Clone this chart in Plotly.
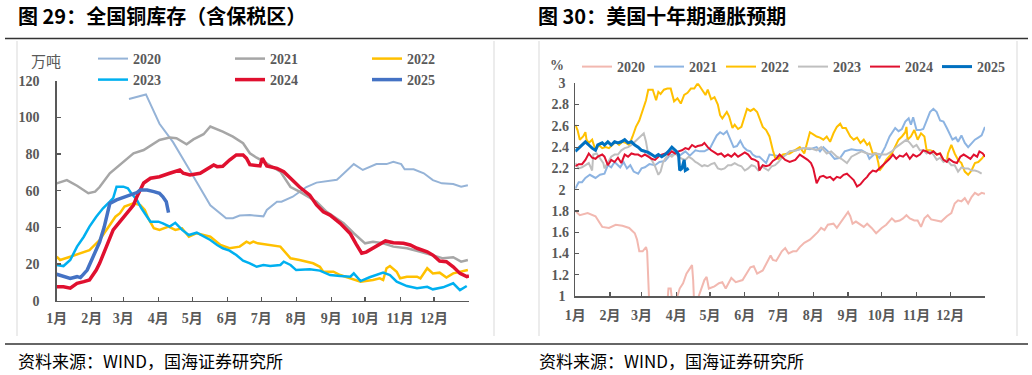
import plotly.graph_objects as go

# ---------------- data: 全国铜库存（万吨），x = day of year ----------------
inv_d_2020 = [64,79,91,103,117,127,136,150,156,162,171,183,186,195,199,209,221,230,236,248,251,263,271,283,292,298,305,308,316,325,333,341,351,358,364]
inv_2020 = [110,112.5,96.5,86.5,72,61.5,52,45,45,46.5,46.7,46,49.5,54,54,56.7,62,64.4,65,66,67.6,74.5,71.3,74.5,74.5,75.8,74.5,71.7,71.7,69.5,65.8,64,63.6,62.2,63]

inv_d_2021 = [0,9,18,28,34,38,47,56,68,77,91,100,106,115,121,130,136,147,156,165,171,177,183,198,207,215,230,239,245,254,263,273,280,289,298,310,322,333,342,351,358,364]
inv_2021 = [64,65.8,62.7,58.6,59.5,62,69.5,74,80.4,82.2,87.7,89,88.6,85.3,88,90.8,95,92.2,89.5,85.9,80.4,78,76,70.4,62,59.5,54,48.5,45.8,42.2,36.8,31.3,32.2,31.3,29.5,28.6,26.7,24.9,23.1,23.7,21.3,22.2]

inv_d_2022 = [0,3,12,24,29,38,46,52,56,60,68,74,78,81,86,91,99,105,111,117,124,130,136,145,153,162,168,171,174,178,189,198,207,215,227,233,236,245,251,260,269,280,286,289,292,295,301,304,310,319,322,328,333,339,345,351,357,364]
inv_2022 = [24,22.2,24,26.7,27.6,33.1,40.4,45.8,47.7,51.3,53.1,52.2,49.5,45,39.5,38.6,40.4,38.6,39.5,34.9,36.8,35.8,34.9,30.4,28.6,29.5,32.2,31.3,32.2,31.3,30.4,29.5,23.1,22.2,20.4,18.5,15.8,15.8,14,12.2,10.4,11.3,12.2,11.3,17.7,18.9,15.8,12.2,13.1,13.1,12.2,17.7,14.9,15.3,12.6,14.9,15.8,16.7]

inv_d_2023 = [0,6,12,18,24,29,35,41,47,50,53,59,63,66,71,75,80,83,90,94,100,105,111,117,124,130,136,142,147,153,159,165,171,177,183,189,198,201,207,212,224,233,242,251,260,263,269,277,289,295,301,310,319,328,333,342,351,357,363]
inv_2023 = [19.5,18.9,22.2,29.5,34.9,40.4,45.8,50.4,54,56,62.2,62.2,61.3,58.6,54.9,50.4,45.8,43.1,43.1,42.2,40.4,42.5,38.6,35.8,37.1,34.9,33.1,30.4,28.6,27.3,24.9,21.8,20.4,18.5,19.5,18.9,19.5,21.3,19.5,16.7,17.1,16.4,14,13.5,13.1,14.9,10.7,12.8,15.3,14,10.4,8.0,6.8,7.6,6.2,7.3,9.5,5.8,8.0]

inv_d_2024 = [0,6,12,18,24,29,35,38,44,50,56,62,65,68,71,74,77,83,91,100,109,112,118,127,136,139,142,147,153,159,165,168,171,177,180,182,186,195,201,207,215,224,230,236,242,251,260,265,270,274,280,286,291,298,307,313,319,328,333,339,345,351,357,363,365]
inv_2024 = [7.6,7.6,6.8,9.5,10.4,11.3,16.7,20.4,29.5,38.6,43.1,47.7,49.5,52.2,56.7,60.4,64.2,66.8,67.6,69.5,71.3,69.5,68.6,69.5,72.5,74,73.1,73.3,76.7,79.5,79.5,77.7,74.2,74,73.5,77.7,73.5,72.2,70.4,66.8,62,57.6,52.2,48.5,46.7,42.2,36.5,31,25.9,26.5,28.6,30.4,32.6,31.6,31.3,30.4,28.6,26.7,24.9,21.6,21.3,18.5,14.9,13.1,13.6]

inv_d_2025 = [0,6,12,18,21,27,32,38,42,47,53,59,65,71,74,80,86,91,94,97,99]
inv_2025 = [14.4,13.1,12.2,13.1,12.6,16.7,24,32,40,53,55,56.5,58,59,60.4,60.4,59.5,58.6,56.7,54,48]

# ---------------- data: 美国十年期通胀预期（%），x = day of year ----------------
bei_d_2020 = [0,4,11,18,24,30,36,42,48,53,55,57,60,63,64,65,66,70,76,81,82,83,85,86,88,90,91,93,96,99,101,104,105,106,108,110,112,115,117,119,124,128,131,134,139,143,149,152,156,159,162,167,171,174,176,179,184,187,190,194,197,200,204,209,212,216,219,222,225,230,233,237,240,243,245,247,250,253,257,260,264,268,273,277,282,285,289,292,295,298,302,305,308,311,314,317,322,326,331,335,338,341,344,347,350,353,356,359,362,365]
bei_2020 = [1.80,1.76,1.78,1.75,1.65,1.64,1.67,1.66,1.64,1.59,1.53,1.42,1.42,1.46,1.42,1.15,0.9,0.6,0.55,0.8,1.0,1.07,1.07,0.95,0.8,0.9,1.0,1.07,1.12,1.21,1.24,1.29,1.15,0.9,0.85,1.0,1.06,1.15,1.18,1.07,1.09,1.12,1.13,1.07,1.17,1.13,1.15,1.20,1.27,1.28,1.21,1.24,1.32,1.38,1.34,1.33,1.42,1.45,1.40,1.42,1.42,1.46,1.50,1.53,1.56,1.60,1.64,1.62,1.67,1.68,1.64,1.70,1.75,1.79,1.75,1.68,1.70,1.68,1.65,1.68,1.64,1.59,1.64,1.67,1.73,1.70,1.71,1.73,1.76,1.73,1.71,1.71,1.65,1.73,1.76,1.72,1.71,1.70,1.75,1.78,1.87,1.90,1.89,1.92,1.87,1.93,1.97,1.95,1.97,1.96]

bei_d_2021 = [0,3,6,9,13,18,22,26,29,32,35,40,43,46,49,52,56,59,62,66,71,75,80,84,89,93,98,102,107,111,115,120,123,126,129,132,135,138,141,144,147,150,153,156,158,161,164,167,170,173,179,185,191,197,203,209,215,218,221,227,231,236,240,246,251,255,260,262,267,271,276,280,285,288,291,294,297,299,301,304,307,310,313,316,319,322,325,328,331,333,336,339,341,344,347,350,353,356,359,362,365]
bei_2021 = [2.01,2.07,2.07,2.11,2.14,2.11,2.14,2.15,2.23,2.21,2.26,2.21,2.26,2.20,2.23,2.17,2.15,2.20,2.21,2.24,2.23,2.26,2.27,2.32,2.34,2.32,2.36,2.32,2.37,2.36,2.36,2.39,2.45,2.51,2.54,2.52,2.55,2.47,2.40,2.41,2.46,2.40,2.37,2.36,2.33,2.31,2.31,2.28,2.25,2.33,2.32,2.31,2.36,2.37,2.39,2.38,2.40,2.36,2.40,2.34,2.29,2.30,2.36,2.38,2.37,2.37,2.34,2.29,2.34,2.30,2.40,2.50,2.58,2.55,2.57,2.64,2.67,2.61,2.68,2.56,2.56,2.57,2.65,2.73,2.76,2.73,2.65,2.64,2.58,2.53,2.47,2.49,2.45,2.51,2.44,2.40,2.44,2.47,2.49,2.51,2.59]

bei_d_2022 = [0,2,4,7,9,10,12,15,18,21,24,27,30,33,36,39,42,45,48,51,54,57,60,63,65,69,72,74,76,79,82,85,88,91,94,97,100,103,106,109,111,113,116,118,121,124,127,129,131,133,135,137,140,142,145,148,150,153,156,159,162,165,167,170,173,176,178,181,185,191,196,200,204,207,209,212,215,218,221,224,227,230,233,236,238,241,245,248,251,254,257,260,262,265,268,270,271,274,277,282,285,288,291,294,295,296,299,302,305,308,311,313,316,319,322,325,328,331,332,335,338,341,344,347,350,353,356,359,362,365]
bei_2022 = [2.61,2.56,2.47,2.50,2.54,2.47,2.44,2.47,2.37,2.42,2.39,2.40,2.39,2.42,2.45,2.42,2.45,2.44,2.42,2.50,2.59,2.65,2.75,2.84,2.94,2.94,2.84,2.92,2.90,2.94,2.95,2.95,2.83,2.86,2.81,2.89,2.91,2.95,2.95,3.00,2.97,2.94,2.89,2.94,2.85,2.87,2.80,2.70,2.67,2.70,2.73,2.69,2.58,2.61,2.57,2.59,2.66,2.76,2.74,2.76,2.73,2.65,2.59,2.56,2.50,2.37,2.30,2.29,2.33,2.34,2.37,2.40,2.34,2.47,2.54,2.52,2.50,2.49,2.47,2.50,2.45,2.53,2.59,2.62,2.58,2.58,2.50,2.47,2.49,2.44,2.47,2.42,2.44,2.34,2.34,2.25,2.18,2.22,2.28,2.34,2.40,2.47,2.50,2.54,2.59,2.47,2.50,2.56,2.47,2.53,2.50,2.37,2.37,2.36,2.33,2.34,2.28,2.27,2.34,2.42,2.34,2.28,2.25,2.17,2.14,2.18,2.25,2.26,2.29,2.33]

bei_d_2023 = [0,3,6,9,12,15,16,19,22,25,26,29,32,35,38,41,44,47,50,53,56,59,61,63,65,68,71,74,76,78,80,83,86,89,92,95,98,101,104,107,109,113,115,118,121,124,127,130,133,136,139,142,145,148,151,154,157,160,163,166,169,172,175,178,181,184,188,191,197,203,209,215,219,224,228,233,237,242,246,251,255,260,264,268,273,277,282,286,291,295,298,301,304,307,310,313,316,319,322,325,328,331,335,338,341,344,347,350,353,356,359,362]
bei_2023 = [2.25,2.20,2.21,2.23,2.25,2.18,2.33,2.34,2.29,2.25,2.20,2.25,2.31,2.33,2.33,2.37,2.39,2.40,2.42,2.45,2.48,2.51,2.53,2.45,2.33,2.28,2.22,2.14,2.17,2.25,2.29,2.33,2.31,2.34,2.31,2.29,2.28,2.31,2.29,2.26,2.25,2.22,2.23,2.22,2.24,2.25,2.20,2.19,2.20,2.23,2.23,2.25,2.23,2.22,2.18,2.20,2.23,2.22,2.18,2.22,2.20,2.18,2.22,2.23,2.26,2.30,2.33,2.36,2.37,2.39,2.39,2.37,2.40,2.34,2.36,2.31,2.29,2.25,2.31,2.34,2.36,2.34,2.33,2.34,2.33,2.33,2.36,2.40,2.44,2.47,2.44,2.40,2.42,2.37,2.37,2.34,2.36,2.33,2.28,2.30,2.26,2.28,2.23,2.23,2.17,2.21,2.20,2.20,2.18,2.18,2.17,2.15]

bei_d_2024 = [0,3,6,9,12,15,18,20,24,26,29,32,35,38,41,44,47,50,53,56,59,62,65,68,71,74,77,80,83,86,89,92,95,98,101,104,107,109,113,115,118,121,124,127,130,133,136,139,142,145,148,151,154,157,160,163,164,167,170,173,176,179,182,187,191,196,200,203,207,210,212,215,218,221,224,227,230,233,236,239,242,245,248,251,254,257,260,262,265,268,271,274,277,280,283,286,289,292,295,298,301,304,307,310,313,316,319,322,325,328,331,333,337,340,343,346,349,352,355,358,360,363,365]
bei_2024 = [2.22,2.24,2.24,2.28,2.34,2.30,2.29,2.31,2.33,2.31,2.23,2.28,2.26,2.30,2.25,2.33,2.31,2.34,2.33,2.33,2.31,2.33,2.31,2.29,2.28,2.31,2.33,2.34,2.33,2.36,2.34,2.36,2.37,2.39,2.38,2.42,2.40,2.41,2.42,2.44,2.40,2.37,2.35,2.33,2.34,2.31,2.33,2.31,2.34,2.31,2.33,2.35,2.33,2.29,2.28,2.26,2.18,2.23,2.22,2.23,2.27,2.29,2.33,2.28,2.26,2.28,2.33,2.31,2.28,2.25,2.20,2.06,2.12,2.13,2.11,2.12,2.09,2.12,2.11,2.14,2.15,2.12,2.09,2.03,2.05,2.09,2.12,2.15,2.18,2.17,2.20,2.23,2.26,2.29,2.33,2.29,2.32,2.31,2.34,2.29,2.33,2.31,2.33,2.37,2.36,2.34,2.36,2.33,2.34,2.28,2.26,2.29,2.26,2.25,2.31,2.33,2.31,2.29,2.33,2.31,2.36,2.34,2.31]

bei_d_2025 = [0,3,6,9,12,15,18,20,24,26,29,32,35,38,41,44,47,50,53,56,59,62,65,68,71,74,77,80,83,86,89,90,92,93,95,97,98,101]
bei_2025 = [2.36,2.39,2.42,2.45,2.42,2.39,2.37,2.42,2.44,2.42,2.45,2.42,2.45,2.44,2.45,2.47,2.44,2.45,2.42,2.40,2.37,2.36,2.35,2.33,2.31,2.33,2.31,2.33,2.36,2.40,2.37,2.36,2.33,2.18,2.20,2.28,2.18,2.20]

month_ticks = [0, 31, 59, 90, 120, 151, 181, 212, 243, 273, 304, 334]
month_labels = ["1月", "2月", "3月", "4月", "5月", "6月", "7月", "8月", "9月", "10月", "11月", "12月"]
inv_ticks = [0, 20, 40, 60, 80, 100, 120]
bei_ticks = [1, 1.2, 1.4, 1.6, 1.8, 2, 2.2, 2.4, 2.6, 2.8, 3]
bei_ticktext = ["1\u00a0", "1.2", "1.4", "1.6", "1.8", "2\u00a0", "2.2", "2.4", "2.6", "2.8", "3\u00a0"]

# ---------------- figure ----------------
W, H = 1032, 375
def fx(p):
    return p / W
def fy(p):
    return 1 - p / H

GRAY = "#595959"
SERIF = "Liberation Serif, Noto Sans CJK SC"
CJK = "Noto Sans CJK SC"

fig = go.Figure()

left_series = [
    ("2020", inv_d_2020, inv_2020, "#95B3D7", 2.0, "legend"),
    ("2021", inv_d_2021, inv_2021, "#A6A6A6", 2.5, "legend"),
    ("2022", inv_d_2022, inv_2022, "#FFC000", 2.5, "legend"),
    ("2023", inv_d_2023, inv_2023, "#00B0F0", 2.5, "legend2"),
    ("2024", inv_d_2024, inv_2024, "#E0102F", 3.5, "legend2"),
    ("2025", inv_d_2025, inv_2025, "#4472C4", 3.5, "legend2"),
]
for name, xs, ys, col, w, lg in left_series:
    fig.add_trace(go.Scatter(x=xs, y=ys, mode="lines", name=name,
                             line=dict(color=col, width=w),
                             xaxis="x", yaxis="y", legend=lg, hoverinfo="skip"))

right_series = [
    ("2020", bei_d_2020, bei_2020, "#F2B8B0", 2.0),
    ("2021", bei_d_2021, bei_2021, "#8DB4E2", 2.0),
    ("2022", bei_d_2022, bei_2022, "#FFC000", 2.0),
    ("2023", bei_d_2023, bei_2023, "#BFBFBF", 2.0),
    ("2024", bei_d_2024, bei_2024, "#E0102F", 2.0),
    ("2025", bei_d_2025, bei_2025, "#0070C0", 3.0),
]
for name, xs, ys, col, w in right_series:
    fig.add_trace(go.Scatter(x=xs, y=ys, mode="lines", name=name,
                             line=dict(color=col, width=w),
                             xaxis="x2", yaxis="y2", legend="legend3", hoverinfo="skip"))

tickfont = dict(family=SERIF, size=14, color=GRAY, weight="bold")
axis_common = dict(showgrid=False, zeroline=False, showline=True, linecolor=GRAY,
                   linewidth=1.5, ticks="inside", ticklen=4, tickwidth=1.2,
                   tickcolor=GRAY, tickfont=tickfont, fixedrange=True, automargin=False)

legfont = dict(family=SERIF, size=14, color=GRAY, weight="bold")

fig.update_layout(
    width=W, height=H, autosize=False,
    margin=dict(l=0, r=0, t=0, b=0, pad=0),
    paper_bgcolor="white", plot_bgcolor="rgba(0,0,0,0)",
    xaxis=dict(domain=[fx(56.7), fx(469)], range=[0, 365], tickmode="array",
               tickvals=month_ticks, ticktext=month_labels, anchor="y",
               ticklabelstandoff=4, **axis_common),
    yaxis=dict(domain=[fy(300.7), fy(80.7)], range=[0, 120], tickmode="array",
               tickvals=inv_ticks, anchor="x", ticklabelstandoff=13, **axis_common),
    xaxis2=dict(domain=[fx(575.3), fx(985)], range=[0, 365], tickmode="array",
                tickvals=month_ticks, ticktext=month_labels, anchor="y2",
                ticklabelstandoff=6, **axis_common),
    yaxis2=dict(domain=[fy(296), fy(83.3)], range=[1, 3], tickmode="array",
                tickvals=bei_ticks, ticktext=bei_ticktext, anchor="x2",
                ticklabelstandoff=2, **axis_common),
    legend=dict(orientation="h", x=fx(93), y=fy(43), xanchor="left", yanchor="top",
                font=legfont, entrywidth=92, bgcolor="rgba(0,0,0,0)", borderwidth=0,
                itemclick=False, itemdoubleclick=False),
    legend2=dict(orientation="h", x=fx(93), y=fy(64), xanchor="left", yanchor="top",
                 font=legfont, entrywidth=92, bgcolor="rgba(0,0,0,0)", borderwidth=0,
                 itemclick=False, itemdoubleclick=False),
    legend3=dict(orientation="h", x=fx(577), y=fy(51), xanchor="left", yanchor="top",
                 font=legfont, entrywidth=27, bgcolor="rgba(0,0,0,0)", borderwidth=0,
                 itemclick=False, itemdoubleclick=False),
    showlegend=True,
)

shapes = [
    dict(type="line", xref="paper", yref="paper", x0=fx(5), x1=fx(1028), y0=fy(38.5), y1=fy(38.5),
         line=dict(color="#333333", width=1.3)),
    dict(type="line", xref="paper", yref="paper", x0=fx(5), x1=fx(1028), y0=fy(344), y1=fy(344),
         line=dict(color="#333333", width=1.3)),
    dict(type="line", xref="paper", yref="paper", x0=fx(17), x1=fx(17), y0=fy(41), y1=fy(336),
         line=dict(color="#D9D9D9", width=1)),
    dict(type="line", xref="paper", yref="paper", x0=fx(494), x1=fx(494), y0=fy(41), y1=fy(336),
         line=dict(color="#D9D9D9", width=1)),
    dict(type="line", xref="paper", yref="paper", x0=fx(539), x1=fx(539), y0=fy(41), y1=fy(336),
         line=dict(color="#D9D9D9", width=1)),
    dict(type="line", xref="paper", yref="paper", x0=fx(1017), x1=fx(1017), y0=fy(41), y1=fy(336),
         line=dict(color="#D9D9D9", width=1)),
]
fig.update_layout(shapes=shapes)

annotations = [
    dict(text="<b>图 29：全国铜库存（含保税区）</b>", x=fx(16), y=fy(16), xanchor="left", yanchor="middle",
         font=dict(family=CJK, size=20, color="black")),
    dict(text="<b>图 30：美国十年期通胀预期</b>", x=fx(536), y=fy(16), xanchor="left", yanchor="middle",
         font=dict(family=CJK, size=20, color="black")),
    dict(text="万吨", x=fx(46), y=fy(60), xanchor="center", yanchor="middle",
         font=dict(family=CJK, size=15, color=GRAY)),
    dict(text="<b>%</b>", x=fx(557), y=fy(66), xanchor="center", yanchor="middle",
         font=dict(family=SERIF, size=14, color=GRAY)),
    dict(text="资料来源：WIND，国海证券研究所", x=fx(16), y=fy(360), xanchor="left", yanchor="middle",
         font=dict(family=CJK, size=17, color="black")),
    dict(text="资料来源：WIND，国海证券研究所", x=fx(537), y=fy(360), xanchor="left", yanchor="middle",
         font=dict(family=CJK, size=17, color="black")),
]
for a in annotations:
    a.update(xref="paper", yref="paper", showarrow=False)
fig.update_layout(annotations=annotations)

fig.write_html("out.html", config={"displayModeBar": False, "staticPlot": True},
               post_script="document.body.style.margin='0';document.body.style.padding='0';")
